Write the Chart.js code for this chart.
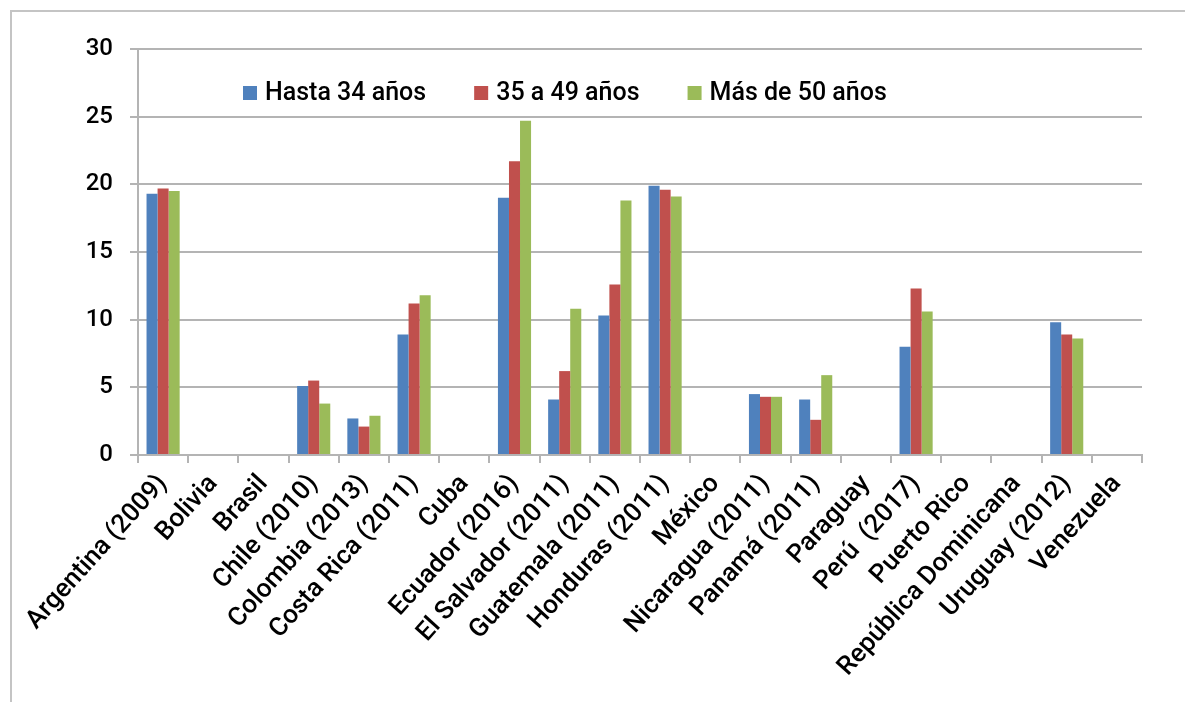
<!DOCTYPE html>
<html>
<head>
<meta charset="utf-8">
<script src="https://cdn.jsdelivr.net/npm/chart.js@4/dist/chart.umd.min.js"></script>
<style>
  html, body { margin: 0; padding: 0; background: #fff; }
  #wrap { position: relative; width: 1185px; height: 702px; }
  #frame { position: absolute; left: 10px; top: 10px; width: 1175px; height: 692px;
           border-top: 2px solid #c4c4c4; border-left: 2px solid #c4c4c4; box-sizing: border-box; pointer-events: none; }
</style>
</head>
<body>
<div id="wrap">
  <canvas id="chart" width="1185" height="702"></canvas>
  <div id="frame"></div>
</div>
<script>
const countries = [
  "Argentina (2009)", "Bolivia", "Brasil", "Chile (2010)", "Colombia (2013)",
  "Costa Rica (2011)", "Cuba", "Ecuador (2016)", "El Salvador (2011)", "Guatemala (2011)",
  "Honduras (2011)", "México", "Nicaragua (2011)", "Panamá (2011)", "Paraguay",
  "Perú  (2017)", "Puerto Rico", "República Dominicana", "Uruguay (2012)", "Venezuela"
];
const hasta34 = [19.3, null, null, 5.1, 2.7, 8.9, null, 19.0, 4.1, 10.3, 19.9, null, 4.5, 4.1, null, 8.0, null, null, 9.8, null];
const de35a49 = [19.7, null, null, 5.5, 2.1, 11.2, null, 21.7, 6.2, 12.6, 19.6, null, 4.3, 2.6, null, 12.3, null, null, 8.9, null];
const mas50   = [19.5, null, null, 3.8, 2.9, 11.8, null, 24.7, 10.8, 18.8, 19.1, null, 4.3, 5.9, null, 10.6, null, null, 8.6, null];
const seriesNames = ["Hasta 34 años", "35 a 49 años", "Más de 50 años"];
const seriesColors = ["#4f81bd", "#c0504d", "#9bbb59"];

const FONT = "Roboto, 'DejaVu Sans', sans-serif";
const gridColor = "#b4b4b4";

// legend drawn inside the plot, like the original
const insideLegend = {
  id: "insideLegend",
  afterDraw(chart) {
    const ctx = chart.ctx;
    const area = chart.chartArea;
    let x = area.left + 105;
    const y = area.top + 44;
    ctx.save();
    ctx.font = "500 25px " + FONT;
    ctx.textBaseline = "middle";
    ctx.textAlign = "left";
    chart.data.datasets.forEach(ds => {
      ctx.fillStyle = ds.backgroundColor;
      ctx.fillRect(x, y - 7, 14, 14);
      ctx.fillStyle = "#000";
      ctx.fillText(ds.label, x + 22, y + 1);
      x += 22 + ctx.measureText(ds.label).width + 48;
    });
    ctx.restore();
  }
};

new Chart(document.getElementById("chart").getContext("2d"), {
  type: "bar",
  data: {
    labels: countries,
    datasets: [
      { label: seriesNames[0], data: hasta34, backgroundColor: seriesColors[0] },
      { label: seriesNames[1], data: de35a49, backgroundColor: seriesColors[1] },
      { label: seriesNames[2], data: mas50, backgroundColor: seriesColors[2] }
    ]
  },
  options: {
    responsive: false,
    animation: false,
    layout: { padding: { top: 49, right: 43, left: 0, bottom: 0 } },
    datasets: { bar: { categoryPercentage: 0.66, barPercentage: 1.0 } },
    plugins: { legend: { display: false }, tooltip: { enabled: false } },
    scales: {
      x: {
        afterFit: s => { s.height = 702 - 455; },
        grid: { display: true, drawOnChartArea: false, color: gridColor, lineWidth: 2, tickLength: 8, offset: true },
        border: { color: gridColor, width: 2 },
        ticks: { color: "#000", font: { family: FONT, size: 26, weight: "500" }, minRotation: 48, maxRotation: 48, autoSkip: false, padding: 6 }
      },
      y: {
        min: 0, max: 30,
        afterFit: s => { s.width = 138; },
        grid: { color: gridColor, lineWidth: 2, tickLength: 8 },
        border: { color: gridColor, width: 2 },
        ticks: { stepSize: 5, color: "#000", font: { family: FONT, size: 24, weight: "500" }, padding: 17 }
      }
    }
  },
  plugins: [insideLegend]
});
</script>
</body>
</html>
